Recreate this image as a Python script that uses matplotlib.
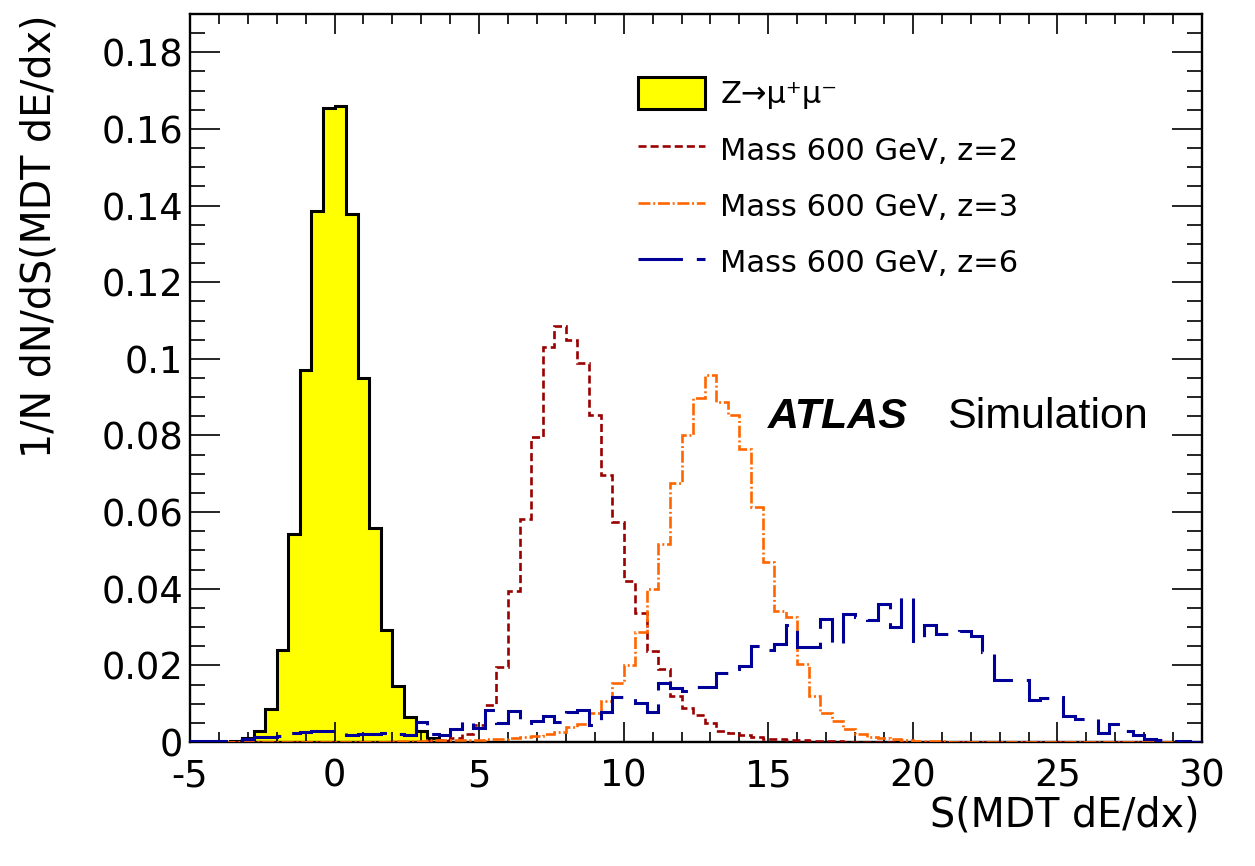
import numpy as np
import matplotlib
matplotlib.use('Agg')
import matplotlib.pyplot as plt
from matplotlib.ticker import MultipleLocator, FuncFormatter
from matplotlib.patches import Patch
from matplotlib.lines import Line2D

plt.rcParams['font.family'] = 'DejaVu Sans'
plt.rcParams['axes.unicode_minus'] = False
plt.rcParams['lines.scale_dashes'] = False

# binning: 0.4 wide bins, -5.2 .. 30
bin_first = -5.2
bin_width = 0.4
n_bins = 88

# Z -> mu mu, first bin starts at -3.6
zmumu_start = -3.6
zmumu = [0.0003, 0.0010, 0.0028, 0.0087, 0.0240, 0.0543, 0.0970, 0.1385, 0.1654,
         0.1660, 0.1378, 0.0951, 0.0558, 0.0293, 0.0145, 0.0065, 0.0030, 0.0010,
         0.0003]

# Mass 600 GeV, z=2, first bin starts at 3.2
z2_start = 3.2
z2 = [0.0003, 0.0005, 0.0010, 0.0020, 0.0044, 0.0097, 0.0197, 0.0394, 0.0583,
      0.0797, 0.1031, 0.1086, 0.1049, 0.0990, 0.0853, 0.0698, 0.0575, 0.0420,
      0.0337, 0.0237, 0.0190, 0.0120, 0.0090, 0.0070, 0.0050, 0.0028, 0.0024,
      0.0019, 0.0012, 0.0009, 0.0007, 0.0005, 0.0004, 0.0003, 0.0002, 0.0002,
      0.0001]

# Mass 600 GeV, z=3, first bin starts at 2.0
z3_start = 2.0
z3 = [0.0002, 0.0003, 0.0003, 0.0004, 0.0005, 0.0005, 0.0005, 0.0006, 0.0008,
      0.0008, 0.0010, 0.0013, 0.0016, 0.0022, 0.0027, 0.0040, 0.0047, 0.0075,
      0.0107, 0.0155, 0.0202, 0.0288, 0.0400, 0.0518, 0.0675, 0.0800, 0.0897,
      0.0957, 0.0888, 0.0853, 0.0766, 0.0614, 0.0470, 0.0342, 0.0325, 0.0203,
      0.0120, 0.0075, 0.0055, 0.0034, 0.0020, 0.0014, 0.0010, 0.0007, 0.0005,
      0.0003, 0.0002, 0.0002, 0.0001]

# Mass 600 GeV, z=6, first bin starts at -5.2
z6_start = -5.2
z6 = [0.0002, 0.0002, 0.0003, 0.0003, 0.0004, 0.0007, 0.0012, 0.0012, 0.0016, 0.0023,
      0.0027, 0.0030, 0.0028, 0.0027, 0.0018, 0.0020, 0.0020, 0.0023, 0.0022, 0.0018,
      0.0053, 0.0020, 0.0017, 0.0033, 0.0055, 0.0036, 0.0083, 0.0049, 0.0081, 0.0049,
      0.0055, 0.0068, 0.0053, 0.0078, 0.0083, 0.0044, 0.0079, 0.0118, 0.0114, 0.0101,
      0.0079, 0.0153, 0.0140, 0.0132, 0.0144, 0.0144, 0.0179, 0.0190, 0.0198, 0.0250,
      0.0240, 0.0257, 0.0305, 0.0247, 0.0247, 0.0321, 0.0256, 0.0334, 0.0325, 0.0318,
      0.0361, 0.0300, 0.0378, 0.0263, 0.0305, 0.0282, 0.0286, 0.0289, 0.0276, 0.0235,
      0.0162, 0.0162, 0.0162, 0.0110, 0.0115, 0.0118, 0.0068, 0.0060, 0.0060, 0.0024,
      0.0048, 0.0030, 0.0017, 0.0008, 0.0006, 0.0003, 0.0002, 0.0001]

labels = ['Z\u2192\u03bc\u207a\u03bc\u207b', 'Mass 600 GeV, z=2',
          'Mass 600 GeV, z=3', 'Mass 600 GeV, z=6']

edges = bin_first + bin_width * np.arange(n_bins + 1)


def full_hist(start, vals):
    h = np.zeros(n_bins)
    i0 = int(round((start - bin_first) / bin_width))
    h[i0:i0 + len(vals)] = vals
    return h


c_z2 = '#990000'
c_z3 = '#ff6600'
c_z6 = '#000099'
ls_z2 = (0, (5.8, 2.9))
ls_z3 = (0, (8.6, 2.0, 1.4, 2.0))
ls_z6 = (0, (32, 10))

fig = plt.figure(figsize=(12.55, 8.66), dpi=100)
ax = fig.add_axes([190 / 1255, 124 / 866, 1012 / 1255, 728 / 866])

h_z = full_hist(zmumu_start, zmumu)
ax.stairs(h_z, edges, fill=True, color='#ffff00', zorder=1)
ax.stairs(h_z, edges, color='black', linewidth=2.2, zorder=2)
ax.stairs(full_hist(z2_start, z2), edges, color=c_z2, linewidth=1.9,
          linestyle=ls_z2, zorder=3)
ax.stairs(full_hist(z3_start, z3), edges, color=c_z3, linewidth=1.9,
          linestyle=ls_z3, zorder=3)
ax.stairs(full_hist(z6_start, z6), edges, color=c_z6, linewidth=2.2,
          linestyle=ls_z6, zorder=3)

ax.set_xlim(-5, 30)
ax.set_ylim(0, 0.19)

# ROOT style axes
ax.xaxis.set_major_locator(MultipleLocator(5))
ax.xaxis.set_minor_locator(MultipleLocator(1))
ax.yaxis.set_major_locator(MultipleLocator(0.02))
ax.yaxis.set_minor_locator(MultipleLocator(0.005))
ax.yaxis.set_major_formatter(FuncFormatter(lambda v, p: '%g' % round(v, 3)))
ax.xaxis.set_major_formatter(FuncFormatter(lambda v, p: '%g' % v))
ax.tick_params(which='both', direction='in', top=True, right=True, width=1.2)
ax.tick_params(axis='x', which='major', length=14.4, labelsize=26.5, pad=11)
ax.tick_params(axis='x', which='minor', length=7.2)
ax.tick_params(axis='y', which='major', length=21.6, labelsize=26.5, pad=5)
ax.tick_params(axis='y', which='minor', length=10.8)
for s in ax.spines.values():
    s.set_linewidth(1.7)

fig.text(1200 / 1255, 1 - 815 / 866, 'S(MDT dE/dx)', fontsize=28.5,
         ha='right', va='center')
fig.text(40 / 1255, 1 - 15 / 866, '1/N dN/dS(MDT dE/dx)', fontsize=28.5,
         rotation=90, ha='center', va='top')

# legend
handles = [
    Patch(facecolor='#ffff00', edgecolor='black', linewidth=2.2),
    Line2D([], [], color=c_z2, linewidth=1.9, linestyle=ls_z2),
    Line2D([], [], color=c_z3, linewidth=1.9, linestyle=ls_z3),
    Line2D([], [], color=c_z6, linewidth=2.2, linestyle=ls_z6),
]
ax.legend(handles, labels, loc='upper left',
          bbox_to_anchor=(638 / 1255, 1 - 77 / 866),
          bbox_transform=fig.transFigure, frameon=False, fontsize=22,
          borderpad=0, borderaxespad=0, handlelength=2.2, handleheight=1.25,
          handletextpad=0.5, labelspacing=0.78)

fig.text(768 / 1255, 1 - 428 / 866, 'ATLAS', family='Liberation Sans',
         fontweight='bold', fontstyle='italic', fontsize=31, va='baseline')
fig.text(947 / 1255, 1 - 428 / 866, 'Simulation', family='Liberation Sans',
         fontsize=31, va='baseline')

fig.savefig('out.png', dpi=100)
